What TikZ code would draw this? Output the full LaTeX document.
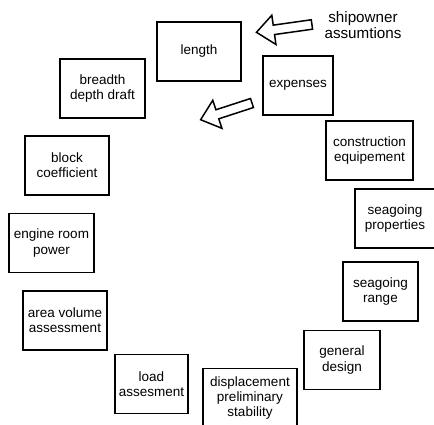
\documentclass[tikz,border=0pt]{standalone}
\usepackage{fontspec}
\setmainfont{Liberation Sans}
\usetikzlibrary{shapes.arrows}

\begin{document}
\begin{tikzpicture}[x=1pt,y=-1pt,
  stage/.style={draw,line width=1.6pt,minimum height=59pt,align=center,
    inner sep=1pt,font=\fontsize{13.5}{15.2}\selectfont},
  hollow/.style={single arrow,draw,line width=1.5pt,inner sep=4pt,
    single arrow head extend=10pt,single arrow tip angle=80}]
  \path[use as bounding box,clip] (0,0) rectangle (434,425);

  \node[stage,minimum width=84pt] (length)  at (199,51.5)  {length};
  \node[stage,minimum width=70pt] (expenses) at (298,85.5) {expenses};
  \node[stage,minimum width=87pt] (constr)  at (369.5,150.5) {construction\\equipement};
  \node[stage,minimum width=80pt] (seaprop) at (395,218.5) {seagoing\\properties};
  \node[stage,minimum width=75pt] (searange) at (380.5,291.5) {seagoing\\range};
  \node[stage,minimum width=76pt] (general) at (342,360)   {general\\design};
  \node[stage,minimum width=94pt] (displ)   at (250,398)   {displacement\\preliminary\\stability};
  \node[stage,minimum width=73pt] (load)    at (151.5,384) {load\\assesment};
  \node[stage,minimum width=84pt] (area)    at (65,320.5)  {area volume\\assessment};
  \node[stage,minimum width=85pt] (engine)  at (51.5,243)  {engine room\\power};
  \node[stage,minimum width=84pt] (block)   at (67,165.5)  {block\\coefficient};
  \node[stage,minimum width=85pt] (breadth) at (102.5,88.5) {breadth\\depth draft};

  \node[align=center,font=\fontsize{15.2}{16.5}\selectfont] (owner) at (363,25)
    {shipowner\\assumtions};

  \node[hollow,minimum height=56pt,rotate=188] (inarrow) at (287,28) {};
  \node[hollow,minimum height=54pt,rotate=198] (outarrow) at (229,110.5) {};
\end{tikzpicture}
\end{document}
